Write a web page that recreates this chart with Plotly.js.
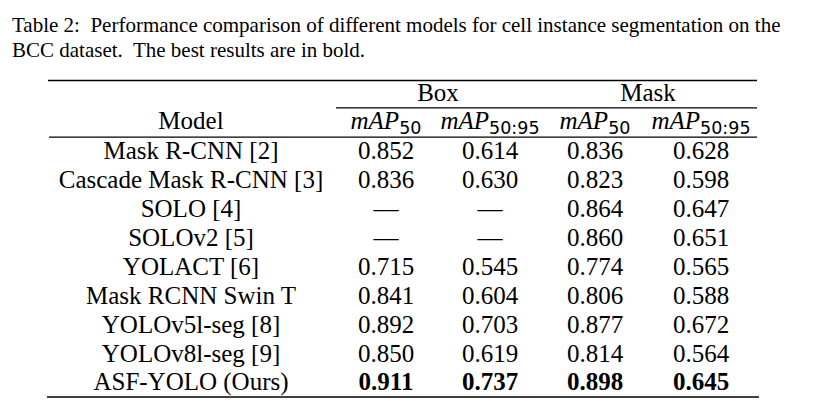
<!DOCTYPE html>
<html>
<head>
<meta charset="utf-8">
<script src="https://cdn.plot.ly/plotly-3.0.1.min.js"></script>
<style>html,body{margin:0;padding:0;background:#fff;}#chart{width:813px;height:410px;}</style>
</head>
<body>
<div id="chart"></div>
<script>
// ---- data ----
const models = ["Mask R-CNN [2]", "Cascade Mask R-CNN [3]", "SOLO [4]", "SOLOv2 [5]", "YOLACT [6]",
  "Mask RCNN Swin T", "YOLOv5l-seg [8]", "YOLOv8l-seg [9]", "ASF-YOLO (Ours)"];
const boxMAP50   = [0.852, 0.836, null, null, 0.715, 0.841, 0.892, 0.850, 0.911];
const boxMAP5095 = [0.614, 0.630, null, null, 0.545, 0.604, 0.703, 0.619, 0.737];
const maskMAP50  = [0.836, 0.823, 0.864, 0.860, 0.774, 0.806, 0.877, 0.814, 0.898];
const maskMAP5095= [0.628, 0.598, 0.647, 0.651, 0.565, 0.588, 0.672, 0.564, 0.645];
const groupLabels = ["Box", "Mask"];
const metricLabels = ["mAP50", "mAP50:95", "mAP50", "mAP50:95"];
const caption = ["Table 2:  Performance comparison of different models for cell instance segmentation on the",
                 "BCC dataset.  The best results are in bold."];
const boldRow = "ASF-YOLO (Ours)";

// ---- layout helpers ----
const FONT = "Liberation Serif, Times New Roman, serif";
const SIZE = 25;
const colX = [191, 386, 490, 595, 701];   // column centres (pixel x units)
const rowsIdx = models.map((_, i) => i);
const HEADER_ROW = -1.04, GROUP_ROW = -2.0;
const SH = 0.07; // vertical compensation for shapes

function fmt(v, bold) {
  if (v === null) return "—";
  const s = v.toFixed(3);
  return bold ? "<b>" + s + "</b>" : s;
}
function metricHtml(m) {
  const base = m.replace(/[\d:]+$/, "");
  const sub = m.slice(base.length);
  return "<i>" + base + "</i><sub><span style=\"font-family:'DejaVu Sans',sans-serif\">" + sub + "</span></sub>";
}

const cols = [boxMAP50, boxMAP5095, maskMAP50, maskMAP5095];
const traces = [];
traces.push({
  type: "scatter", mode: "text", x: models.map(() => colX[0]), y: rowsIdx,
  text: models, textposition: "middle center",
  textfont: {family: FONT, size: SIZE, color: "#000"}, hoverinfo: "skip"
});
cols.forEach((arr, c) => {
  traces.push({
    type: "scatter", mode: "text", x: arr.map(() => colX[c + 1]), y: rowsIdx,
    text: arr.map((v, i) => fmt(v, models[i] === boldRow)), textposition: "middle center",
    textfont: {family: FONT, size: SIZE, color: "#000"}, hoverinfo: "skip"
  });
});
traces.push({
  type: "scatter", mode: "text",
  x: colX.slice(), y: colX.map(() => HEADER_ROW),
  text: ["Model"].concat(metricLabels.map(metricHtml)), textposition: "middle center",
  textfont: {family: FONT, size: SIZE, color: "#000"}, hoverinfo: "skip"
});
traces.push({
  type: "scatter", mode: "text",
  x: [(colX[1] + colX[2]) / 2, (colX[3] + colX[4]) / 2], y: [GROUP_ROW, GROUP_ROW],
  text: groupLabels, textposition: "middle center",
  textfont: {family: FONT, size: SIZE, color: "#000"}, hoverinfo: "skip"
});

const line = (x0, x1, y, w) => ({type: "line", xref: "x", yref: "y", x0, x1, y0: y - SH, y1: y - SH,
  line: {color: "#000", width: w}});
const layout = {
  width: 813, height: 410, margin: {l: 0, r: 0, t: 0, b: 0},
  paper_bgcolor: "#fff", plot_bgcolor: "#fff", showlegend: false,
  xaxis: {range: [0, 813], visible: false, fixedrange: true},
  yaxis: {range: [8.962 - SH, -5.225 - SH], visible: false, fixedrange: true},
  shapes: [
    line(48, 757, -2.44, 1.5),
    line(336, 757, -1.49, 1.2),
    line(49, 757, -0.48, 1.2),
    line(47, 759, 8.51, 1.5)
  ],
  annotations: caption.map((t, i) => ({
    xref: "paper", yref: "paper", x: 10 / 813, y: 1 - (11 + i * 25) / 410,
    xanchor: "left", yanchor: "top", showarrow: false, text: t,
    font: {family: "Liberation Serif, Times New Roman, serif", size: 21, color: "#000"}
  }))
};
Plotly.newPlot("chart", traces, layout, {displayModeBar: false, staticPlot: true});
</script>
</body>
</html>
